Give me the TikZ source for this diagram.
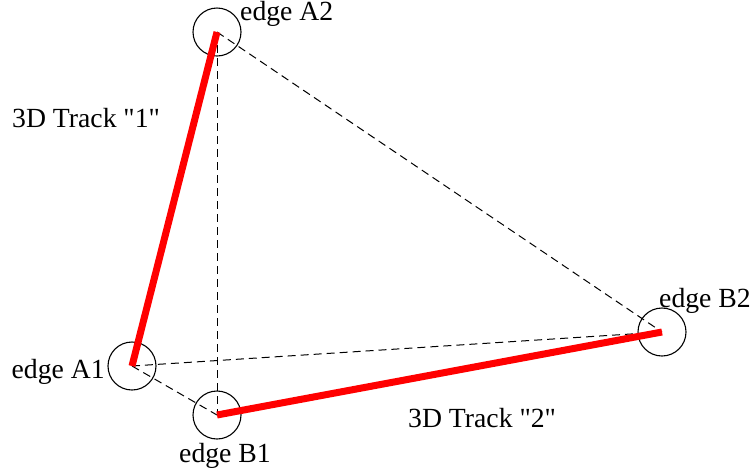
\documentclass[tikz,border=0pt]{standalone}
\usepackage{fontspec}
\setmainfont{Liberation Serif}[Ligatures=TeXOff]
\begin{document}
\begin{tikzpicture}[x=1pt,y=-1pt,
  edgecirc/.style={draw=black,line width=1.1pt,circle,minimum size=48pt,inner sep=0pt},
  lbl/.style={anchor=base west,inner sep=0pt,font=\fontsize{27.7}{32}\selectfont},
  dashlink/.style={draw=black,line width=1pt,dash pattern=on 8pt off 5pt},
  track/.style={draw=red,line width=7pt}]
\useasboundingbox (0,0) rectangle (755,475);
\node[edgecirc] (A2) at (217,32) {};
\node[edgecirc] (A1) at (132,366) {};
\node[edgecirc] (B1) at (217,415) {};
\node[edgecirc] (B2) at (662,332) {};
\draw[dashlink] (A2.center) -- (B2.center);
\draw[dashlink] (A2.center) -- (B1.center);
\draw[dashlink] (A1.center) -- (B2.center);
\draw[dashlink] (A1.center) -- (B1.center);
\draw[track] (A2.center) -- (A1.center);
\draw[track] (B1.center) -- (B2.center);
\node[lbl] (tA2) at (240,20.5) {edge A2};
\node[lbl] (tA1) at (11.5,378.5) {edge A1};
\node[lbl] (tB1) at (179,462) {edge B1};
\node[lbl] (tB2) at (659,307) {edge B2};
\node[lbl] (t1) at (12,127) {3D Track "1"};
\node[lbl] (t2) at (408,427) {3D Track "2"};
\end{tikzpicture}
\end{document}
